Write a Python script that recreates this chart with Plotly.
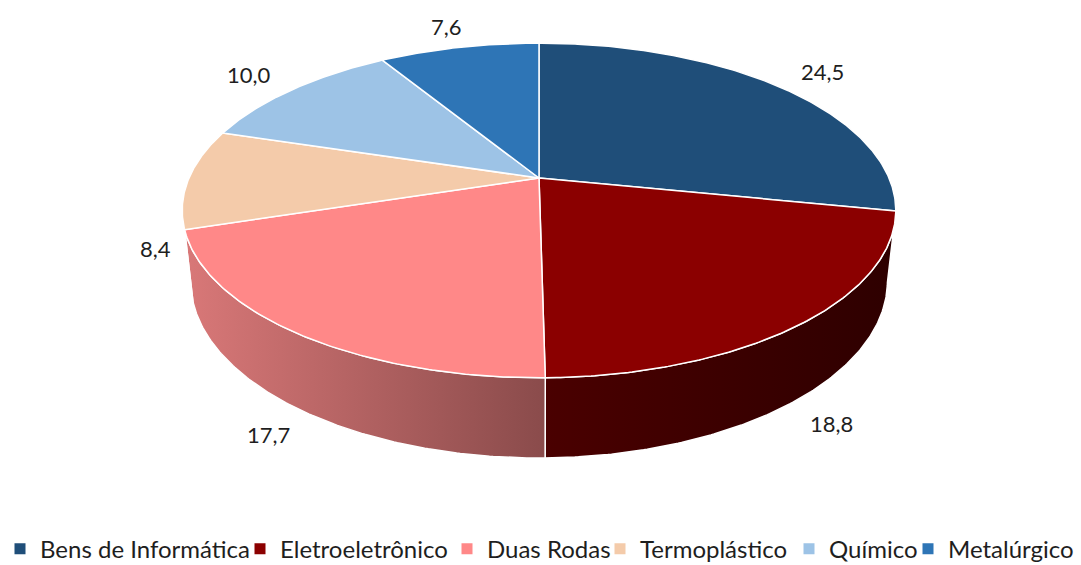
import numpy as np
import plotly.graph_objects as go

# ---- data ----
categories = ["Bens de Informática", "Eletroeletrônico", "Duas Rodas",
              "Termoplástico", "Químico", "Metalúrgico"]
values = [24.5, 18.8, 17.7, 8.4, 10.0, 7.6]

# ---- styles ----
top_colors = ["#1F4E79", "#8B0000", "#FF8888", "#F4CBAA", "#9DC3E6", "#2E75B6"]
wall_left = ["#163A5A", "#4A0000", "#D97878", "#C9A58B", "#7FA0BE", "#245C8E"]
wall_right = ["#0F2A42", "#2E0000", "#8A4B4B", "#8F7462", "#5A7188", "#1A4368"]
legend_widths = [195, 162, 108, 144, 74, 130]   # px width of each legend entry
FONT = "Lato, 'Open Sans', sans-serif"

# ---- 3D projection parameters ----
W, H = 1081, 565
S = 350.0            # radius in px
SIN_P = 0.46         # sin of elevation
COS_P = float(np.sqrt(1 - SIN_P ** 2))
DIST = 4.58          # camera distance (in radii)
THICK = 0.229        # pie thickness (in radii)
CX, CY = 539, 178    # apex position in px (from top-left)


def proj(X, Y, Z):
    X, Y, Z = np.asarray(X, float), np.asarray(Y, float), np.asarray(Z, float)
    d = Y * COS_P - Z * SIN_P
    f = DIST / (DIST + d)
    return X * f * S, (Y * SIN_P + Z * COS_P) * f * S


def arc(a0, a1, z, r=1.0, n=None):
    n = n or max(4, int(abs(a1 - a0) * 2))
    t = np.radians(np.linspace(a0, a1, n))
    return proj(r * np.sin(t), r * np.cos(t), np.full_like(t, z))


total = sum(values)
angles = np.concatenate([[0], np.cumsum(values) / total * 360.0])
theta_r = float(np.degrees(np.arccos(-COS_P / DIST)))
theta_l = 360.0 - theta_r

fig = go.Figure()

# walls (visible front part only)
for i in range(len(values)):
    a0, a1 = max(angles[i], theta_r), min(angles[i + 1], theta_l)
    if a1 - a0 <= 0.05:
        continue
    tx, ty = arc(a0, a1, 0.0)
    bx, by = arc(a1, a0, -THICK)
    xs = np.concatenate([tx, bx, tx[:1]])
    ys = np.concatenate([ty, by, ty[:1]])
    fig.add_trace(go.Scatter(
        x=xs, y=ys, mode="lines", fill="toself",
        line=dict(color="white", width=1.5),
        fillgradient=dict(type="horizontal",
                          colorscale=[[0, wall_left[i]], [1, wall_right[i]]]),
        hoverinfo="skip", showlegend=False))

# top faces
for i in range(len(values)):
    ax_, ay_ = arc(angles[i], angles[i + 1], 0.0)
    xs = np.concatenate([[0.0], ax_, [0.0]])
    ys = np.concatenate([[0.0], ay_, [0.0]])
    fig.add_trace(go.Scatter(
        x=xs, y=ys, mode="lines", fill="toself", fillcolor=top_colors[i],
        line=dict(color="white", width=1.5),
        hoverinfo="skip", showlegend=False))

# labels: back-half slices labelled at the top rim, front-half at the bottom rim
for i, v in enumerate(values):
    mid = np.radians((angles[i] + angles[i + 1]) / 2)
    back = np.cos(mid) > 0
    r = 1.2 if back else 1.12
    Z = 0.0 if back else -THICK
    lx, ly = proj(r * np.sin(mid), r * np.cos(mid), Z)
    fig.add_annotation(x=float(lx), y=float(ly), text=f"{v:.1f}".replace(".", ","),
                       showarrow=False, font=dict(family=FONT, size=22, color="#1E1E1E"))

# legend entries
for i, name in enumerate(categories):
    fig.add_trace(go.Scatter(x=[None], y=[None], mode="markers", name=name,
                             legendwidth=legend_widths[i],
                             marker=dict(symbol="square", size=11, color=top_colors[i])))

fig.update_layout(
    width=W, height=H, margin=dict(l=0, r=0, t=0, b=0, autoexpand=False),
    paper_bgcolor="white", plot_bgcolor="white",
    xaxis=dict(range=[-CX, W - CX], visible=False, fixedrange=True),
    yaxis=dict(range=[-(H - CY), CY], visible=False, fixedrange=True),
    showlegend=True,
    legend=dict(orientation="h", x=0.0, xanchor="left", y=0.028, yanchor="middle",
                font=dict(family=FONT, size=24, color="#1E1E1E"),
                itemwidth=30, bgcolor="rgba(0,0,0,0)"),
)

fig.write_html("out.html", config={"displayModeBar": False},
               post_script="document.body.style.margin='0';")
